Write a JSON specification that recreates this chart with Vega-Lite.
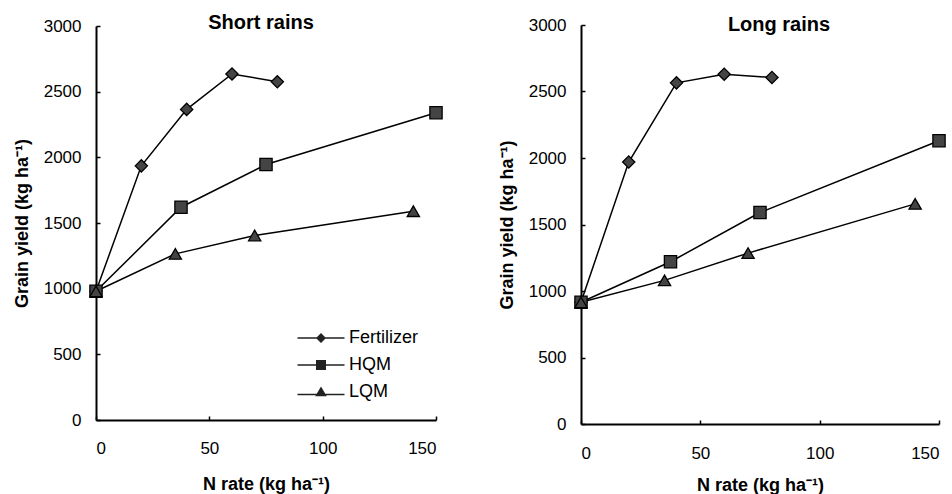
{
  "$schema": "https://vega.github.io/schema/vega-lite/v6.json",
  "background": "white",
  "padding": {"left": 13, "top": 13, "right": 2, "bottom": 0},
  "spacing": 53,
  "center": true,
  "config": {
    "font": "Liberation Sans",
    "view": {"stroke": null},
    "axis": {
      "grid": false,
      "domainColor": "black",
      "domainWidth": 2,
      "tickColor": "black",
      "tickSize": -4,
      "tickWidth": 1.5,
      "labelFont": "Liberation Sans",
      "labelFontSize": 17,
      "labelColor": "black",
      "format": "d",
      "titleFont": "Liberation Sans",
      "titleFontSize": 18,
      "titleFontWeight": "bold",
      "titleColor": "black"
    },
    "title": {"font": "Liberation Sans", "fontSize": 20, "fontWeight": "bold", "color": "black"}
  },
  "datasets": {
    "yields": [
      {"season": "Short rains", "source": "Fertilizer", "N": 0, "yield": 980},
      {"season": "Short rains", "source": "Fertilizer", "N": 20, "yield": 1935},
      {"season": "Short rains", "source": "Fertilizer", "N": 40, "yield": 2365},
      {"season": "Short rains", "source": "Fertilizer", "N": 60, "yield": 2635},
      {"season": "Short rains", "source": "Fertilizer", "N": 80, "yield": 2575},
      {"season": "Short rains", "source": "HQM", "N": 0, "yield": 980},
      {"season": "Short rains", "source": "HQM", "N": 37.5, "yield": 1620},
      {"season": "Short rains", "source": "HQM", "N": 75, "yield": 1945},
      {"season": "Short rains", "source": "HQM", "N": 150, "yield": 2340},
      {"season": "Short rains", "source": "LQM", "N": 0, "yield": 980},
      {"season": "Short rains", "source": "LQM", "N": 35, "yield": 1265},
      {"season": "Short rains", "source": "LQM", "N": 70, "yield": 1405},
      {"season": "Short rains", "source": "LQM", "N": 140, "yield": 1590},
      {"season": "Long rains", "source": "Fertilizer", "N": 0, "yield": 915},
      {"season": "Long rains", "source": "Fertilizer", "N": 20, "yield": 1970},
      {"season": "Long rains", "source": "Fertilizer", "N": 40, "yield": 2565},
      {"season": "Long rains", "source": "Fertilizer", "N": 60, "yield": 2630},
      {"season": "Long rains", "source": "Fertilizer", "N": 80, "yield": 2605},
      {"season": "Long rains", "source": "HQM", "N": 0, "yield": 915},
      {"season": "Long rains", "source": "HQM", "N": 37.5, "yield": 1220},
      {"season": "Long rains", "source": "HQM", "N": 75, "yield": 1590},
      {"season": "Long rains", "source": "HQM", "N": 150, "yield": 2130},
      {"season": "Long rains", "source": "LQM", "N": 0, "yield": 915},
      {"season": "Long rains", "source": "LQM", "N": 35, "yield": 1080},
      {"season": "Long rains", "source": "LQM", "N": 70, "yield": 1285},
      {"season": "Long rains", "source": "LQM", "N": 140, "yield": 1655}
    ]
  },
  "hconcat": [
    {
      "width": 340,
      "height": 394,
      "title": {"text": "Short rains", "offset": -16, "dx": -5},
      "data": {"name": "yields"},
      "transform": [{"filter": "datum.season === 'Short rains'"}],
      "encoding": {
        "x": {"field": "N", "type": "quantitative", "scale": {"domain": [0, 150], "nice": false},
              "axis": {"title": "N rate (kg ha⁻¹)", "values": [0, 50, 100, 150], "labelPadding": 24, "titlePadding": 19}},
        "y": {"field": "yield", "type": "quantitative", "scale": {"domain": [0, 3000], "nice": false},
              "axis": {"title": "Grain yield (kg ha⁻¹)", "values": [0, 500, 1000, 1500, 2000, 2500, 3000], "labelPadding": 19, "titlePadding": 12}}
      },
      "resolve": {"scale": {"shape": "independent"}},
      "layer": [
        {"mark": {"type": "line", "color": "black", "strokeWidth": 1.5}, "encoding": {"detail": {"field": "source"}}},
        {"mark": {"type": "point", "filled": true, "fill": "#444444", "stroke": "black", "strokeWidth": 1.3, "opacity": 1, "size": 150},
         "encoding": {"shape": {"field": "source", "type": "nominal", "legend": null,
                                "scale": {"domain": ["Fertilizer", "HQM", "LQM"], "range": ["diamond", "square", "triangle-up"]}}}},
        {"transform": [{"filter": "false"}],
         "mark": {"type": "point", "filled": true, "fill": "#222222", "opacity": 1, "size": 100},
         "encoding": {"shape": {"field": "source", "type": "nominal",
                                "scale": {"domain": ["Fertilizer", "HQM", "LQM"],
                                          "range": ["M-4.7,-0.14H4.7V0.14H-4.7ZM0,-1L1,0L0,1L-1,0Z", "M-4.7,-0.14H4.7V0.14H-4.7ZM-1,-1H1V1H-1Z", "M-4.7,0.36H4.7V0.64H-4.7ZM0,-1.1L1.15,0.85L-1.15,0.85Z"]},
                                "legend": {"title": null, "orient": "none", "legendX": 216, "legendY": 303,
                                           "padding": 0, "labelFontSize": 18, "labelFont": "Liberation Sans", "labelColor": "black",
                                           "labelOffset": 19, "rowPadding": 9, "symbolSize": 100,
                                           "symbolFillColor": "#222222", "symbolOpacity": 1}}}}
      ]
    },
    {
      "width": 358,
      "height": 399,
      "title": {"text": "Long rains", "offset": -19, "dx": 19},
      "data": {"name": "yields"},
      "transform": [{"filter": "datum.season === 'Long rains'"}],
      "encoding": {
        "x": {"field": "N", "type": "quantitative", "scale": {"domain": [0, 150], "nice": false},
              "axis": {"title": "N rate (kg ha⁻¹)", "values": [0, 50, 100, 150], "labelPadding": 25, "titlePadding": 15}},
        "y": {"field": "yield", "type": "quantitative", "scale": {"domain": [0, 3000], "nice": false},
              "axis": {"title": "Grain yield (kg ha⁻¹)", "values": [0, 500, 1000, 1500, 2000, 2500, 3000], "labelPadding": 19, "titlePadding": 12}}
      },
      "layer": [
        {"mark": {"type": "line", "color": "black", "strokeWidth": 1.5}, "encoding": {"detail": {"field": "source"}}},
        {"mark": {"type": "point", "filled": true, "fill": "#444444", "stroke": "black", "strokeWidth": 1.3, "opacity": 1, "size": 150},
         "encoding": {"shape": {"field": "source", "type": "nominal", "legend": null,
                                "scale": {"domain": ["Fertilizer", "HQM", "LQM"], "range": ["diamond", "square", "triangle-up"]}}}}
      ]
    }
  ]
}
